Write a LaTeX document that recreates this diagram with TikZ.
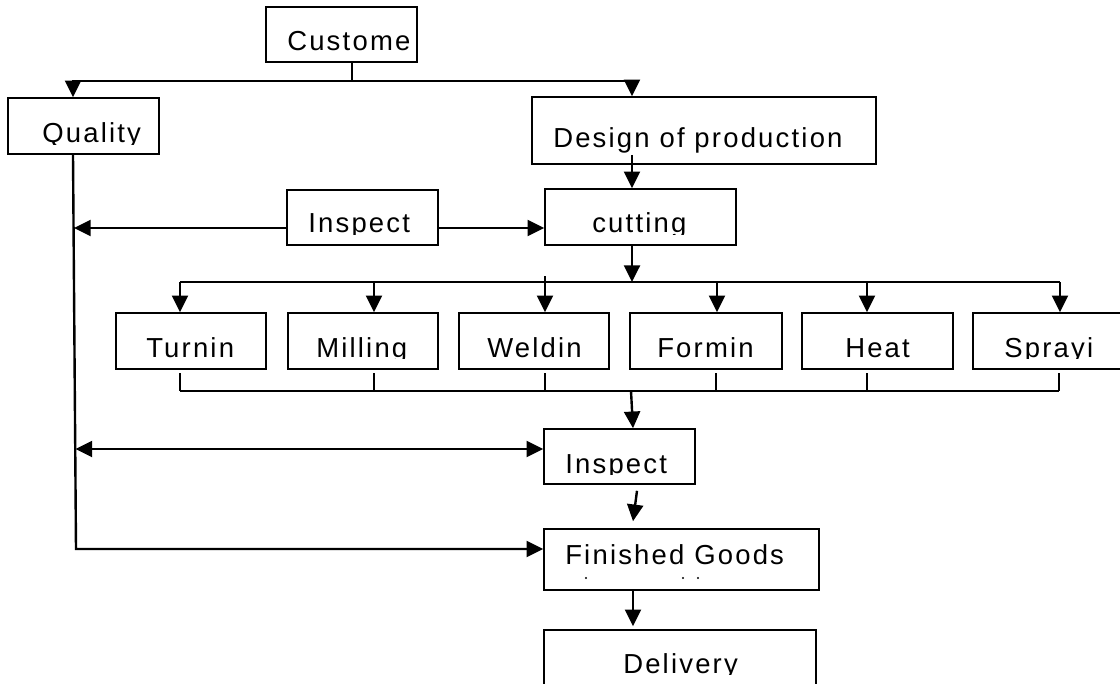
\documentclass[tikz,border=0pt]{standalone}
\usepackage{fontspec}
\newfontfamily\chartfont{Liberation Sans}[LetterSpace=8]
\usetikzlibrary{arrows.meta,fit,calc}

% word whose descenders are cut off at the baseline
\newcommand\clipword[4]{%
  \begin{scope}
    \clip (#2-10,#3-40) rectangle (#2+400,#3+1.5);
    \node[lbl] (#1) at (#2,#3) {#4};
  \end{scope}}

\begin{document}
\begin{tikzpicture}[x=0.75pt,y=-0.75pt,
  procbox/.style={draw,line width=1.2pt,inner sep=0pt},
  conn/.style={line width=1.8pt},
  arr/.style={conn,-{Triangle[length=12.5pt,width=12pt]}},
  darr/.style={conn,{Triangle[length=12.5pt,width=12pt]}-{Triangle[length=12.5pt,width=12pt]}},
  lbl/.style={anchor=base west,inner sep=0pt,font={\chartfont\fontsize{20.6}{24}\selectfont}}]

\clip (0,0) rectangle (1120,684);
\fill[white] (0,0) rectangle (1120,684);

% boxes
\node[procbox,fit={(266,7) (417,62)}]    (cust)   {};
\node[procbox,fit={(8,98) (159,154)}]    (qual)   {};
\node[procbox,fit={(532,97) (876,164)}]  (design) {};
\node[procbox,fit={(545,189) (736,245)}] (cut)    {};
\node[procbox,fit={(287,190) (438,245)}] (insp1)  {};
\node[procbox,fit={(116,313) (266,369)}] (turn)   {};
\node[procbox,fit={(288,313) (438,369)}] (mill)   {};
\node[procbox,fit={(459,313) (609,369)}] (weld)   {};
\node[procbox,fit={(630,313) (782,369)}] (form)   {};
\node[procbox,fit={(802,313) (953,369)}] (heat)   {};
\node[procbox,fit={(973,313) (1124,369)}] (spray) {};
\node[procbox,fit={(544,429) (695,484)}] (insp2)  {};
\node[procbox,fit={(544,529) (819,590)}] (fin)    {};
\node[procbox,fit={(544,630) (816,700)}] (deliv)  {};

% labels
\node[lbl] (tcust) at (287,51) {Custome};
\clipword{tqual}{42}{143}{Quality}
\node[lbl] (tdesign) at (553,148) {Design of production};
\clipword{tcut}{592}{233}{cutting}
\clipword{tinspa}{308}{233}{Inspect}
\node[lbl] (tturn) at (146,357) {Turnin};
\clipword{tmill}{316}{357}{Milling}
\node[lbl] (tweld) at (487,357) {Weldin};
\node[lbl] (tform) at (657,357) {Formin};
\node[lbl] (theat) at (845,357) {Heat};
\clipword{tspray}{1004}{357}{Sprayi}
\clipword{tinspb}{565}{473}{Inspect}
\node[lbl] (tfin) at (565,564) {Finished Goods};
\clipword{tdel}{623}{673}{Delivery}

% dots of a second, hidden line
\fill (586,578) circle (1.2);
\fill (683,578) circle (1.2);
\fill (698,578) circle (1.2);

% reference points
\coordinate (cj) at (352,81);
\coordinate (qx) at (73,0);
\coordinate (dx) at (632,0);
\coordinate (iy) at (0,228);
\coordinate (qa) at (74,228);
\coordinate (qi) at (75.5,449);
\coordinate (qb) at (76,549);
\coordinate (bt) at (632,282);
\coordinate (fx) at (633,0);

% customer split
\draw[conn] (cust.south -| cj) -- (cj);
\draw[arr] (cj) -| (qual.north -| qx);
\draw[arr] (cj) -| (design.north -| dx);

% design to cutting
\draw[arr] ($(design.south -| dx)+(0,-10)$) -- (cut.north -| dx);

% first inspection
\draw[arr] (insp1.west |- iy) -- (qa);
\draw[arr] (insp1.east |- iy) -- (cut.west |- iy);

% distribution bus
\draw[arr] (cut.south -| dx) -- (bt);
\draw[conn] (180,282) -- (1060,282);
\foreach \n/\x in {turn/180,mill/374,weld/545,form/717,heat/867,spray/1060}
  \draw[arr] (\x,282) -- (\n.north -| \x,0);
\draw[conn] (545,276) -- (545,282);

% collecting bus
\foreach \x in {180,374,545,716,867,1059}
  \draw[conn] (\x,373) -- (\x,391);
\draw[conn] (180,391) -- (1059,391);
\draw[arr] (631,391) -- (insp2.north -| fx);

% quality line
\draw[darr] (qi) -- (insp2.west |- qi);
\draw[arr] (qual.south -| qx) -- (qb) -- (fin.west |- qb);

% final steps
\draw[arr] ($(insp2.south -| 637,0)+(0,6)$) -- ($(fin.north -| fx)+(0,-7)$);
\draw[arr] (fin.south -| fx) -- ($(deliv.north -| fx)+(0,-3)$);
\end{tikzpicture}
\end{document}
